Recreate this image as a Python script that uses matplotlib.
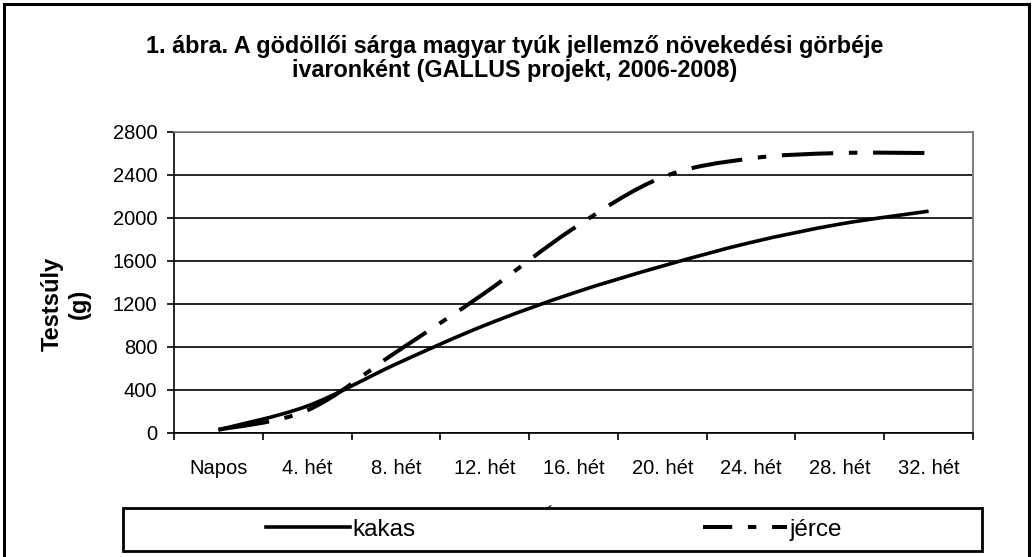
import matplotlib
matplotlib.use("Agg")
import matplotlib.pyplot as plt
from matplotlib.path import Path
from matplotlib.patches import PathPatch, Rectangle
from matplotlib.lines import Line2D
import numpy as np

plt.rcParams['font.family'] = ['Liberation Sans', 'DejaVu Sans']

categories = ["Napos", "4. hét", "8. hét", "12. hét", "16. hét", "20. hét", "24. hét", "28. hét", "32. hét"]
kakas = [30, 250, 640, 1000, 1300, 1550, 1770, 1940, 2060]
jerce = [30, 210, 750, 1300, 1900, 2375, 2550, 2600, 2600]
yticks = [0, 400, 800, 1200, 1600, 2000, 2400, 2800]

title = "1. ábra. A gödöllői sárga magyar tyúk jellemző növekedési görbéje\nivaronként (GALLUS projekt, 2006-2008)"
ylabel = "Testsúly\n(g)"
xlabel = "Életkor"

W, H = 1034, 557
fig = plt.figure(figsize=(W / 100, H / 100), dpi=100)
ax = fig.add_axes([174 / W, 1 - 433 / H, (973 - 174) / W, (433 - 131.5) / H])


def smooth_path(xs, ys):
    pts = np.column_stack([xs, ys]).astype(float)
    n = len(pts)
    verts = [pts[0]]
    codes = [Path.MOVETO]
    for i in range(n - 1):
        p0 = pts[i - 1] if i > 0 else pts[i]
        p1 = pts[i]
        p2 = pts[i + 1]
        p3 = pts[i + 2] if i + 2 < n else pts[i + 1]
        c1 = p1 + (p2 - p0) / 6.0
        c2 = p2 - (p3 - p1) / 6.0
        verts += [c1, c2, p2]
        codes += [Path.CURVE4] * 3
    return Path(verts, codes)


DASH = (12.75, 3.9, 2.1, 3.9)

x = np.arange(len(categories))
ax.add_patch(PathPatch(smooth_path(x, kakas), fill=False, edgecolor='black',
                       linewidth=2.6, capstyle='butt', joinstyle='round', zorder=3))
ax.add_patch(PathPatch(smooth_path(x, jerce), fill=False, edgecolor='black',
                       linewidth=2.9, linestyle=(0, DASH),
                       capstyle='butt', joinstyle='round', zorder=3))

ax.set_xlim(-0.5, len(categories) - 0.5)
ax.set_ylim(0, 2800)
ax.set_yticks(yticks)
ax.set_yticklabels([str(v) for v in yticks])
ax.set_xticks(x)
ax.set_xticklabels(categories)
ax.set_xticks(np.arange(-0.5, len(categories), 1.0), minor=True)
ax.tick_params(axis='x', which='major', length=0, pad=19, labelsize=14.5)
ax.tick_params(axis='x', which='minor', length=5, width=1.2, direction='out', color='black')
ax.tick_params(axis='y', which='major', length=5, width=1.2, direction='out', pad=7, labelsize=14.5)
ax.yaxis.grid(True, color='black', linewidth=1.2)
ax.set_axisbelow(True)
ax.spines['left'].set_color('black')
ax.spines['left'].set_linewidth(1.2)
ax.spines['bottom'].set_color('black')
ax.spines['bottom'].set_linewidth(1.2)
ax.spines['top'].set_color('#808080')
ax.spines['top'].set_linewidth(1.2)
ax.spines['right'].set_color('#808080')
ax.spines['right'].set_linewidth(1.5)

ax.set_xlabel(xlabel, fontsize=15, labelpad=21.3)

fig.text(515 / W, 1 - 58.5 / H, title, ha='center', va='center', fontsize=16.8,
         fontweight='bold', linespacing=1.1)
fig.text(66 / W, 1 - 304 / H, ylabel, ha='center', va='center', rotation=90,
         fontsize=17, fontweight='bold', multialignment='center', linespacing=1.25)

# legend box
fig.add_artist(Rectangle((123 / W, 1 - 551 / H), (982 - 123) / W, (551 - 508) / H,
                         transform=fig.transFigure, facecolor='white', edgecolor='black',
                         linewidth=2, zorder=5))
handles = [Line2D([], [], color='black', linewidth=2.6),
           Line2D([], [], color='black', linewidth=2.9, linestyle=(5.5, DASH))]
leg = fig.legend(handles, ["kakas", "jérce"], loc='center', bbox_to_anchor=(554 / W, 1 - 529.5 / H),
                 ncol=2, frameon=False, fontsize=17.5, handlelength=3.45, handletextpad=0.1,
                 columnspacing=11.85, borderpad=0)
leg.set_zorder(6)

# outer chart border
fig.add_artist(Rectangle((4 / W, -0.05), (1029 - 4) / W, 1 - 4 / H + 0.05,
                         transform=fig.transFigure, facecolor='none', edgecolor='black',
                         linewidth=2.2, zorder=7))

fig.savefig("out.png", dpi=100)
